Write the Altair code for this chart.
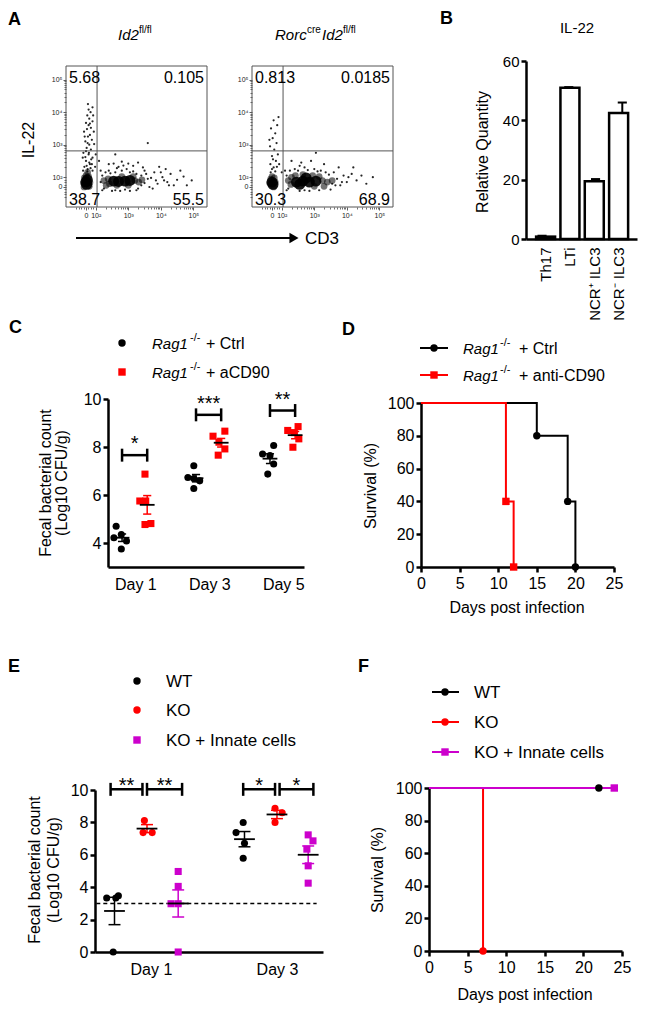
import altair as alt
import numpy as np
import pandas as pd

FONT = "Liberation Sans"
M = 8                     # page margin
W, H = 631, 999           # drawing area
BLACK, RED, MAG = "#000000", "#ff0000", "#cc00cc"

# ============================ DATA ============================
# ---- A: flow cytometry (display decades: 0 -> "0", 0.3 -> 10^2, 1.3 -> 10^3 ...)
A_tick_vals = [0, 0.3, 1.3, 2.3, 3.3]
A_tick_labels = ["0", "10²", "10³", "10⁴", "10⁵"]
A_gate = [0.34, 1.11]
A1_quad = ["5.68", "0.105", "38.7", "55.5"]
A2_quad = ["0.813", "0.0185", "30.3", "68.9"]
# dots: (x, y, density class 1 = sparse, 2 = medium, 3 = dense)
A1_dots = [
    (0.0, 0.16, 3), (0.04, 0.22, 3), (0.02, 0.08, 3),
    (-0.08, 0.12, 2), (0.12, 0.14, 2), (0.0, 0.35, 2), (0.08, 0.32, 2), (-0.05, 0.28, 2), (0.1, 0.02, 2),
    (-0.06, 0.0, 2), (0.05, 0.45, 2),
    (0.05, 0.55, 1), (-0.05, 0.62, 1), (0.12, 0.7, 1), (0.0, 0.8, 1), (0.2, 0.9, 1), (0.08, 1.0, 1),
    (-0.08, 1.05, 1), (0.15, 1.15, 1), (0.02, 1.2, 1), (0.1, 1.3, 1), (-0.02, 1.4, 1), (0.18, 1.45, 1),
    (0.06, 1.55, 1), (0.12, 1.6, 1), (-0.06, 1.7, 1), (0.03, 1.78, 1), (0.15, 1.82, 1), (0.08, 1.9, 1),
    (0.0, 1.97, 1), (0.2, 2.02, 1), (0.1, 2.1, 1), (0.04, 2.2, 1), (0.14, 2.3, 1), (0.2, 2.45, 1),
    (0.06, 2.55, 1), (0.28, 0.62, 1), (0.3, 1.0, 1), (-0.1, 0.9, 1), (0.25, 1.32, 1), (0.22, 2.2, 1),
    (0.1, 0.75, 1), (0.0, 1.1, 1), (0.16, 0.85, 1), (0.05, 1.35, 1), (-0.04, 1.55, 1), (0.12, 1.95, 1),
    (0.08, 2.38, 1), (0.24, 1.7, 1), (0.02, 0.65, 1), (0.14, 0.58, 1), (-0.02, 0.92, 1), (0.09, 1.05, 1),
    (0.18, 0.7, 1), (0.04, 0.48, 1), (-0.09, 0.5, 1), (0.2, 0.5, 1),
    (1.0, 0.17, 3), (1.2, 0.18, 3), (1.35, 0.2, 3), (0.85, 0.18, 3),
    (0.55, 0.2, 2), (0.68, 0.25, 2), (0.72, 0.1, 2), (1.5, 0.2, 2), (1.62, 0.15, 2), (1.1, 0.32, 2),
    (1.3, 0.05, 2), (0.95, 0.05, 2), (1.45, 0.32, 2), (0.62, 0.05, 2), (1.72, 0.22, 2),
    (0.45, 0.5, 1), (0.5, -0.1, 1), (0.7, 0.5, 1), (0.8, -0.12, 1), (0.95, 0.58, 1), (1.05, -0.12, 1),
    (1.25, 0.55, 1), (1.45, 0.48, 1), (1.55, -0.1, 1), (1.7, 0.35, 1), (1.8, 0.12, 1), (1.85, 0.4, 1),
    (1.95, 0.0, 1), (2.0, 0.28, 1), (2.1, 0.45, 1), (2.2, 0.1, 1), (2.35, 0.3, 1), (2.5, 0.15, 1),
    (2.6, 0.4, 1), (2.8, 0.22, 1), (3.0, 0.32, 1), (3.25, 0.2, 1), (1.3, 0.72, 1), (0.85, 0.72, 1),
    (1.15, 0.66, 1), (1.75, 0.6, 1), (2.45, 0.55, 1), (2.7, 0.05, 1), (2.05, -0.05, 1), (1.6, 0.75, 1),
    (0.9, 1.0, 1), (1.9, 1.35, 1), (2.9, 0.5, 1), (2.25, 0.62, 1), (1.2, -0.08, 1), (0.4, 0.8, 1),
    (3.1, 0.05, 1), (0.5, 0.35, 1), (0.6, 0.45, 1), (0.75, 0.42, 1), (0.9, 0.45, 1), (1.1, 0.5, 1),
    (1.35, 0.45, 1), (1.55, 0.4, 1), (1.7, 0.05, 1), (1.9, 0.25, 1), (2.15, 0.2, 1), (2.4, 0.2, 1),
    (0.55, -0.05, 1), (0.9, -0.1, 1), (1.35, -0.12, 1), (1.6, -0.05, 1), (0.45, 0.15, 1), (1.0, 0.62, 1),
    (1.8, 0.5, 1), (2.3, 0.45, 1), (2.55, 0.05, 1), (1.45, 0.65, 1), (1.1, 0.78, 1), (0.7, 0.7, 1),
]
A2_dots = [
    (0.0, 0.15, 3), (0.03, 0.08, 3),
    (-0.07, 0.12, 2), (0.1, 0.15, 2), (0.0, 0.32, 2), (0.07, 0.28, 2), (0.05, 0.0, 2), (-0.04, 0.24, 2),
    (0.05, 0.6, 1), (-0.05, 0.7, 1), (0.12, 0.8, 1), (0.0, 0.95, 1), (0.18, 1.0, 1), (0.07, 1.15, 1),
    (-0.06, 1.25, 1), (0.14, 1.35, 1), (0.02, 1.5, 1), (0.1, 1.65, 1), (-0.03, 1.8, 1), (0.16, 1.9, 1),
    (0.05, 2.05, 1), (0.2, 2.15, 1), (0.0, 0.55, 1), (0.22, 0.7, 1), (-0.08, 1.45, 1), (0.1, 0.48, 1),
    (-0.04, 0.45, 1), (0.15, 0.62, 1), (0.03, 0.85, 1),
    (0.75, 0.15, 3), (0.95, 0.18, 3), (1.15, 0.15, 3), (1.35, 0.18, 3), (1.05, 0.28, 3), (0.85, 0.08, 3),
    (0.5, 0.2, 2), (0.58, 0.08, 2), (0.6, 0.3, 2), (1.55, 0.2, 2), (1.7, 0.15, 2), (1.45, 0.32, 2),
    (0.72, 0.35, 2), (1.6, 0.02, 2), (1.25, 0.35, 2), (1.3, 0.02, 2), (1.85, 0.2, 2), (0.95, 0.38, 2),
    (0.4, 0.5, 1), (0.45, -0.1, 1), (0.7, 0.55, 1), (0.85, -0.12, 1), (1.0, 0.6, 1), (1.15, -0.12, 1),
    (1.3, 0.55, 1), (1.5, 0.5, 1), (1.75, 0.38, 1), (1.85, 0.1, 1), (1.9, 0.45, 1), (2.0, 0.25, 1),
    (2.1, 0.05, 1), (2.2, 0.35, 1), (2.3, 0.15, 1), (2.45, 0.4, 1), (2.6, 0.2, 1), (2.75, 0.35, 1),
    (2.9, 0.1, 1), (3.1, 0.3, 1), (1.2, 0.8, 1), (0.9, 0.75, 1), (1.6, 0.7, 1), (2.05, 0.6, 1),
    (0.6, 0.8, 1), (1.8, -0.08, 1), (2.5, 0.6, 1), (1.35, 1.05, 1), (0.3, 0.45, 1), (0.45, 0.35, 1),
    (0.55, 0.5, 1), (0.8, 0.5, 1), (1.1, 0.52, 1), (1.4, 0.48, 1), (1.65, 0.45, 1), (1.95, 0.05, 1),
    (2.15, 0.15, 1), (0.5, -0.05, 1), (1.0, -0.1, 1), (1.45, -0.1, 1), (2.35, 0.3, 1), (0.85, 0.65, 1),
]

# ---- B: IL-22 relative quantity
B_cats = ["Th17", "LTi", "NCR⁺ ILC3", "NCR⁻ ILC3"]
B_vals = [0.8, 51.0, 19.5, 42.5]
B_err = [0.3, 0.2, 0.7, 3.5]

# ---- C: fecal bacterial count, Rag1-/- + Ctrl vs aCD90
C_days = ["Day 1", "Day 3", "Day 5"]
C_ctrl = [[4.70, 4.35, 4.22, 4.08, 3.75], [7.22, 6.73, 6.69, 6.59, 6.27], [8.06, 7.71, 7.64, 7.29, 6.87]]
C_ctrl_jit = [[-0.08, -0.01, -0.11, 0.06, -0.01], [-0.03, -0.11, -0.03, 0.05, -0.03], [0.05, -0.10, 0.0, 0.05, -0.03]]
C_cd90 = [[6.87, 5.75, 5.75, 4.77, 4.81], [8.66, 8.45, 8.2, 7.92, 7.66], [8.85, 8.69, 8.6, 8.34, 7.99]]
C_cd90_jit = [[-0.03, -0.10, -0.02, -0.03, 0.05], [0.05, -0.11, -0.03, 0.05, -0.04], [0.04, -0.10, -0.01, 0.05, -0.03]]
C_sig = ["*", "***", "**"]
C_sig_y = [7.66, 9.34, 9.52]

# ---- D: survival
D_ctrl_days, D_ctrl_surv = [0, 15, 19, 20], [100, 80, 40, 0]
D_cd90_days, D_cd90_surv = [0, 11, 12], [100, 40, 0]

# ---- E: fecal bacterial count WT / KO / KO + innate cells
E_days = ["Day 1", "Day 3"]
E_wt = [[3.33, 3.33, 3.47, 0.0], [7.99, 7.37, 6.71, 5.79]]
E_wt_jit = [[-0.06, 0.01, 0.03, -0.01], [-0.01, -0.065, 0.0, -0.01]]
E_ko = [[8.11, 7.37, 7.37], [8.87, 8.6, 8.0]]
E_ko_jit = [[-0.02, -0.03, 0.04], [-0.015, 0.04, -0.015]]
E_inn = [[4.97, 4.05, 2.98, 2.98, 0.0], [7.23, 6.86, 6.35, 5.32, 4.25]]
E_inn_jit = [[0.0, 0.0, -0.055, 0.0, 0.0], [0.0, 0.037, -0.01, 0.0, 0.0]]
E_limit = 3.0
E_sig = [(0, -0.28, -0.035, "**"), (0, 0.0, 0.27, "**"), (1, -0.26, -0.015, "*"), (1, 0.02, 0.28, "*")]
E_sig_y = 10.04

# ---- F: survival
F_wt_days, F_wt_surv = [0, 22], [100, 100]
F_ko_days, F_ko_surv = [0, 7], [100, 0]
F_inn_days, F_inn_surv = [0, 24], [100, 100]


# ============================ HELPERS ============================
def lbl_expr(vals, labels):
    parts = [f"abs(datum.value - ({v})) < 1e-6 ? '{l}'" for v, l in zip(vals, labels)]
    return " : ".join(parts) + " : ''"


def axis(orient, offset, **kw):
    d = dict(orient=orient, offset=offset, title=None, grid=False, domainWidth=2.5, domainColor=BLACK,
             tickWidth=2.5, tickSize=5, tickColor=BLACK, labelFontSize=16, labelFont=FONT, labelColor=BLACK,
             labelPadding=2, labelFlush=False, labelOverlap=False)
    d.update(kw)
    return alt.Axis(**d)


def sc(dom, rng):
    return alt.Scale(domain=dom, range=[r - M for r in rng], nice=False, zero=False)


def T(rows, size, align="left", baseline="alphabetic", angle=0, weight="normal", style="normal", color=BLACK):
    df = pd.DataFrame(rows, columns=["t", "px", "py"])
    df["px"] = df["px"] - M
    df["py"] = df["py"] - M
    return alt.Chart(df).mark_text(font=FONT, fontSize=size, align=align, baseline=baseline, angle=angle,
                                   fontWeight=weight, fontStyle=style, color=color).encode(
        x=alt.X("px:Q", scale=None), y=alt.Y("py:Q", scale=None), text="t:N")


def SYM(rows, shape, size=50):
    df = pd.DataFrame(rows, columns=["px", "py", "c"])
    df["px"] = df["px"] - M
    df["py"] = df["py"] - M
    return alt.Chart(df).mark_point(shape=shape, filled=True, size=size, opacity=1).encode(
        x=alt.X("px:Q", scale=None), y=alt.Y("py:Q", scale=None), color=alt.Color("c:N", scale=None))


def SEG(rows, width=2):
    df = pd.DataFrame(rows, columns=["px", "px2", "py", "c"])
    for k in ["px", "px2", "py"]:
        df[k] = df[k] - M
    return alt.Chart(df).mark_rule(strokeWidth=width).encode(
        x=alt.X("px:Q", scale=None), x2="px2:Q", y=alt.Y("py:Q", scale=None), color=alt.Color("c:N", scale=None))


# ============================ PANEL A ============================
# minor tick positions of the biexponential display (linear part and 2..9 x 10^n)
A_minor = [-0.3, -0.225, -0.15, -0.075, 0.075, 0.15, 0.225] + \
          [n - 1.7 + float(np.log10(k)) for n in (2, 3, 4) for k in range(2, 10)]
DOT_STYLE = {1: (5, 0.85), 2: (45, 0.55), 3: (120, 0.9)}


def flow_panel(dots, quad, left, top, size=141):
    dom = [-0.615, 3.72]
    xsc = sc(dom, [left, left + size])
    ysc = sc(dom, [top + size, top])
    common = dict(domain=False, values=A_tick_vals, labelExpr=lbl_expr(A_tick_vals, A_tick_labels),
                  labelFontSize=7, tickSize=3, tickWidth=0.8, tickColor="#333", labelPadding=1, labelColor="#222")
    minor = dict(domain=False, values=A_minor, labels=False, tickSize=2, tickWidth=0.7, tickColor="#333")
    xax = axis("bottom", (top + size - M) - H, **common)
    yax = axis("left", -(left - M), **common)
    X = lambda f, a=None: alt.X(f, scale=xsc, axis=a)
    Y = lambda f, a=None: alt.Y(f, scale=ysc, axis=a)
    frame = alt.Chart(pd.DataFrame({"x": [dom[0]], "x2": [dom[1]], "y": [dom[0]], "y2": [dom[1]]})).mark_rect(
        fill="white", fillOpacity=0, stroke="#555", strokeWidth=1).encode(
        x=X("x:Q", xax), x2="x2:Q", y=Y("y:Q", yax), y2="y2:Q")
    minor_l = alt.Chart(pd.DataFrame({"x": [dom[0]], "y": [dom[0]]})).mark_point(opacity=0).encode(
        x=X("x:Q", axis("bottom", (top + size - M) - H, **minor)),
        y=Y("y:Q", axis("left", -(left - M), **minor)))
    gv = alt.Chart(pd.DataFrame({"x": [A_gate[0]], "y": [dom[0]], "y2": [dom[1]]})).mark_rule(
        color="#555", strokeWidth=1).encode(x=X("x:Q"), y=Y("y:Q"), y2="y2:Q")
    gh = alt.Chart(pd.DataFrame({"x": [dom[0]], "x2": [dom[1]], "y": [A_gate[1]]})).mark_rule(
        color="#555", strokeWidth=1).encode(x=X("x:Q"), x2="x2:Q", y=Y("y:Q"))
    ddf = pd.DataFrame(dots, columns=["x", "y", "d"])
    layers = [frame, minor_l]
    for dcls in (2, 3, 1):
        s, o = DOT_STYLE[dcls]
        layers.append(alt.Chart(ddf[ddf.d == dcls]).mark_circle(color=BLACK, size=s, opacity=o).encode(
            x=X("x:Q"), y=Y("y:Q")))
    layers += [gv, gh]
    spots = [(dom[0], dom[1], "left", 12), (dom[1], dom[1], "right", 12),
             (dom[0], dom[0], "left", -7), (dom[1], dom[0], "right", -7)]
    for (qx, qy, al, dy), lab in zip(spots, quad):
        layers.append(alt.Chart(pd.DataFrame({"x": [qx], "y": [qy], "t": [lab]})).mark_text(
            font=FONT, fontSize=16, align=al, baseline="middle", dx=3 if al == "left" else -3, dy=dy,
            color=BLACK).encode(x=X("x:Q"), y=Y("y:Q"), text="t:N"))
    return layers


panelA1 = flow_panel(A1_dots, A1_quad, 66, 66)
panelA2 = flow_panel(A2_dots, A2_quad, 252, 66)

# ============================ PANEL B ============================
bx = sc([-0.6, 3.55], [526, 637])
by = sc([0, 60], [239, 61])
bdf = pd.DataFrame({"i": range(4), "v": B_vals, "z": 0.0,
                    "top": [v + e for v, e in zip(B_vals, B_err)]})
bdf["cl"] = bdf["i"] - 0.17
bdf["cr"] = bdf["i"] + 0.17
b_bars = alt.Chart(bdf).mark_bar(size=19, fill="white", stroke=BLACK, strokeWidth=2.5).encode(
    x=alt.X("i:Q", scale=bx, axis=axis("bottom", (239 - M) - H, values=[0, 1, 2, 3],
                                       labelExpr=lbl_expr([0, 1, 2, 3], B_cats), ticks=False,
                                       labelAngle=270, labelAlign="right", labelBaseline="middle",
                                       labelPadding=8, labelFontSize=15)),
    y=alt.Y("v:Q", scale=by, axis=axis("left", -(526 - M), values=[0, 20, 40, 60], labelFontSize=15)),
    y2="z:Q")
b_err = alt.Chart(bdf).mark_rule(color=BLACK, strokeWidth=2).encode(
    x=alt.X("i:Q", scale=bx, axis=None), y=alt.Y("v:Q", scale=by, axis=None), y2="top:Q")
b_cap = alt.Chart(bdf).mark_rule(color=BLACK, strokeWidth=2).encode(
    x=alt.X("cl:Q", scale=bx, axis=None), x2="cr:Q", y=alt.Y("top:Q", scale=by, axis=None))
panelB = [b_err, b_cap, b_bars]


# ============================ DOT PLOTS (C, E) ============================
def dotplot(groups, xsc, ysc, xax, yax, mean_hw, cap_hw, br_df, br_cap, star_dy, extra=None):
    pts, stats = [], []
    for g in groups:
        for d, (vals, jits) in enumerate(zip(g["vals"], g["jit"])):
            pos = d + g["off"]
            for v, j in zip(vals, jits):
                pts.append(dict(x=pos + j, y=v, grp=g["name"]))
            a = np.array(vals, dtype=float)
            m = a.mean()
            s = a.std(ddof=1) / np.sqrt(len(a))
            stats.append(dict(pos=pos, m=m, lo=m - s, hi=m + s, c=g["color"],
                              xl=pos - mean_hw, xr=pos + mean_hw, cl=pos - cap_hw, cr=pos + cap_hw))
    pdf = pd.DataFrame(pts)
    sdf = pd.DataFrame(stats)
    layers = []
    if extra is not None:
        layers.append(extra)
    for k, g in enumerate(groups):
        layers.append(alt.Chart(pdf[pdf.grp == g["name"]]).mark_point(
            shape=g["shape"], filled=True, size=50, opacity=1, color=g["color"]).encode(
            x=alt.X("x:Q", scale=xsc, axis=xax if k == 0 else None),
            y=alt.Y("y:Q", scale=ysc, axis=yax if k == 0 else None)))
    X = lambda f: alt.X(f, scale=xsc, axis=None)
    Y = lambda f: alt.Y(f, scale=ysc, axis=None)
    col = alt.Color("c:N", scale=None)
    layers.append(alt.Chart(sdf).mark_rule(strokeWidth=1.5).encode(x=X("pos:Q"), y=Y("lo:Q"), y2="hi:Q", color=col))
    layers.append(alt.Chart(sdf).mark_rule(strokeWidth=1.5).encode(x=X("cl:Q"), x2="cr:Q", y=Y("lo:Q"), color=col))
    layers.append(alt.Chart(sdf).mark_rule(strokeWidth=1.5).encode(x=X("cl:Q"), x2="cr:Q", y=Y("hi:Q"), color=col))
    layers.append(alt.Chart(sdf).mark_rule(strokeWidth=1.8, color=BLACK).encode(x=X("xl:Q"), x2="xr:Q", y=Y("m:Q")))
    br = br_df.copy()
    br["lo"] = br["y"] - br_cap
    br["hi"] = br["y"] + br_cap
    br["xm"] = (br["x1"] + br["x2"]) / 2
    layers.append(alt.Chart(br).mark_rule(strokeWidth=2.5, color=BLACK).encode(x=X("x1:Q"), x2="x2:Q", y=Y("y:Q")))
    layers.append(alt.Chart(br).mark_rule(strokeWidth=2.5, color=BLACK).encode(x=X("x1:Q"), y=Y("lo:Q"), y2="hi:Q"))
    layers.append(alt.Chart(br).mark_rule(strokeWidth=2.5, color=BLACK).encode(x=X("x2:Q"), y=Y("lo:Q"), y2="hi:Q"))
    layers.append(alt.Chart(br).mark_text(font=FONT, fontSize=20, baseline="middle", dy=star_dy, color=BLACK).encode(
        x=X("xm:Q"), y=Y("y:Q"), text="lab:N"))
    return layers


# ---- C
C_off = [-0.18, 0.16]
cx = sc([-0.37, 2.28], [108, 304])
cy = sc([3, 10], [567, 399])
c_xax = axis("bottom", (567 - M) - H, values=[0, 1, 2], labelExpr=lbl_expr([0, 1, 2], C_days),
             ticks=False, labelPadding=9)
c_yax = axis("left", -(108 - M), values=[4, 6, 8, 10])
c_br = pd.DataFrame({"x1": [d + C_off[0] for d in range(3)], "x2": [d + C_off[1] for d in range(3)],
                     "y": C_sig_y, "lab": C_sig})
panelC = dotplot([
    dict(name="ctrl", vals=C_ctrl, jit=C_ctrl_jit, off=C_off[0], color=BLACK, shape="circle"),
    dict(name="cd90", vals=C_cd90, jit=C_cd90_jit, off=C_off[1], color=RED, shape="square")],
    cx, cy, c_xax, c_yax, 0.1, 0.055, c_br, 0.27, -11)

# ---- E
E_off = [-0.25, 0.0, 0.24]
ex = sc([-0.4, 1.354], [95, 323])
ey = sc([0, 10], [952, 790])
e_xax = axis("bottom", (952 - M) - H, values=[0.03, 1], labelExpr=lbl_expr([0.03, 1], E_days),
             ticks=False, labelPadding=9)
e_yax = axis("left", -(95 - M), values=[0, 2, 4, 6, 8, 10])
e_br = pd.DataFrame({"x1": [s[0] + s[1] for s in E_sig], "x2": [s[0] + s[2] for s in E_sig],
                     "y": E_sig_y, "lab": [s[3] for s in E_sig]})
e_dash = alt.Chart(pd.DataFrame({"x": [-0.39], "x2": [1.305], "y": [E_limit]})).mark_rule(
    strokeDash=[4, 3], strokeWidth=1.5, color=BLACK).encode(
    x=alt.X("x:Q", scale=ex, axis=None), x2="x2:Q", y=alt.Y("y:Q", scale=ey, axis=None))
panelE = dotplot([
    dict(name="wt", vals=E_wt, jit=E_wt_jit, off=E_off[0], color=BLACK, shape="circle"),
    dict(name="ko", vals=E_ko, jit=E_ko_jit, off=E_off[1], color=RED, shape="circle"),
    dict(name="inn", vals=E_inn, jit=E_inn_jit, off=E_off[2], color=MAG, shape="square")],
    ex, ey, e_xax, e_yax, 0.08, 0.046, e_br, 0.4, -3, extra=e_dash)


# ============================ SURVIVAL (D, F) ============================
def survival(series, xsc, ysc, xax, yax):
    layers = []
    for k, (days, surv, color, shape) in enumerate(series):
        df = pd.DataFrame({"x": days, "y": surv})
        layers.append(alt.Chart(df).mark_line(interpolate="step-after", color=color, strokeWidth=2).encode(
            x=alt.X("x:Q", scale=xsc, axis=xax if k == 0 else None),
            y=alt.Y("y:Q", scale=ysc, axis=yax if k == 0 else None)))
    for days, surv, color, shape in series:
        df = pd.DataFrame({"x": days[1:], "y": surv[1:]})
        layers.append(alt.Chart(df).mark_point(shape=shape, filled=True, size=55, opacity=1, color=color).encode(
            x=alt.X("x:Q", scale=xsc, axis=None), y=alt.Y("y:Q", scale=ysc, axis=None)))
    return layers


dx_ = sc([0, 25], [421, 614])
dy_ = sc([0, 100], [567, 403])
panelD = survival([(D_ctrl_days, D_ctrl_surv, BLACK, "circle"), (D_cd90_days, D_cd90_surv, RED, "square")],
                  dx_, dy_, axis("bottom", (567 - M) - H, values=[0, 5, 10, 15, 20, 25], labelPadding=3),
                  axis("left", -(421 - M), values=[0, 20, 40, 60, 80, 100]))
fx = sc([0, 25], [429, 622])
fy = sc([0, 100], [951, 788])
panelF = survival([(F_wt_days, F_wt_surv, BLACK, "circle"), (F_ko_days, F_ko_surv, RED, "circle"),
                   (F_inn_days, F_inn_surv, MAG, "square")],
                  fx, fy, axis("bottom", (951 - M) - H, values=[0, 5, 10, 15, 20, 25], labelPadding=3),
                  axis("left", -(429 - M), values=[0, 20, 40, 60, 80, 100]))

# ============================ ANNOTATIONS ============================
ann = [
    T([("A", 8, 25), ("B", 440, 24), ("C", 9, 333), ("D", 342, 335), ("E", 8, 672), ("F", 358, 672)],
      18, weight="bold"),
    # rotated axis titles
    T([("IL-22", 29, 140), ("Relative Quantity", 483, 152), ("Fecal bacterial count", 46, 483),
       ("(Log10 CFU/g)", 62, 483), ("Survival (%)", 371, 486), ("Fecal bacterial count", 35, 870),
       ("(Log10 CFU/g)", 54, 870), ("Survival (%)", 378, 870)], 16, align="center", baseline="middle", angle=270),
    T([("Days post infection", 517, 613), ("Days post infection", 525, 1000)], 16, align="center"),
    T([("IL-22", 577, 33)], 15, align="center"),
    T([("CD3", 305, 244)], 17),
    # panel A titles
    T([("Id2", 118, 40), ("Rorc", 275, 40), ("Id2", 322, 40)], 15, style="italic"),
    T([("fl/fl", 139, 33), ("cre", 307, 33), ("fl/fl", 343, 33)], 10),
    # legends C / D
    T([("Rag1", 152, 349), ("Rag1", 152, 378), ("Rag1", 463, 354), ("Rag1", 463, 381)], 15, style="italic"),
    T([("-/-", 190, 341), ("-/-", 190, 370), ("-/-", 500, 346), ("-/-", 500, 373)], 11),
    T([("+ Ctrl", 206, 349), ("+ aCD90", 206, 378), ("+ Ctrl", 519, 354), ("+ anti-CD90", 519, 381)], 16),
    # legends E / F
    T([("WT", 166, 687), ("KO", 166, 716), ("KO + Innate cells", 166, 746),
       ("WT", 474, 698), ("KO", 474, 728), ("KO + Innate cells", 474, 758)], 17),
    SEG([(420, 448, 348, BLACK), (420, 448, 375, RED),
         (432, 459, 692, BLACK), (432, 459, 722, RED), (432, 459, 752, MAG)]),
    SEG([(76, 291, 238, BLACK)]),
    SYM([(294, 238, BLACK)], "triangle-right", 110),
    SYM([(122, 343, BLACK), (434, 348, BLACK), (137, 681, BLACK), (137, 710, RED),
         (445, 692, BLACK), (445, 722, RED)], "circle", 55),
    SYM([(122, 372, RED), (434, 375, RED), (137, 740, MAG), (445, 752, MAG)], "square", 55),
]

all_layers = panelA1 + panelA2 + panelB + panelC + panelD + panelE + panelF + ann
chart = alt.layer(*all_layers).resolve_scale(
    x="independent", y="independent").properties(
    width=W, height=H, padding=0, autosize=alt.AutoSizeParams(type="none")).configure_view(
    stroke=None).configure_axis(grid=False)

chart.save("out.html", embed_options={"renderer": "svg", "actions": False})
